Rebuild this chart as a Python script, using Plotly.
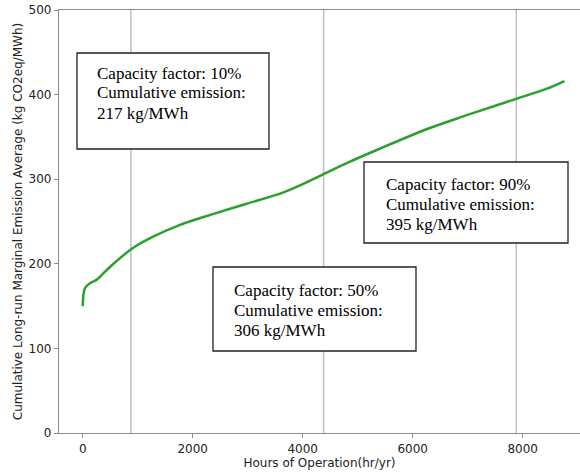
import plotly.graph_objects as go

# Cumulative long-run marginal emission average vs. annual hours of operation
hours = [0, 12, 40, 130, 250, 380, 560, 876, 1280, 1770, 2380, 2980, 3590, 3890,
         4380, 4800, 5400, 6250, 6860, 7460, 7884, 8440, 8760]
emission = [150, 163, 171, 177, 181, 189, 200, 217, 232, 246, 259, 271, 283, 291,
            306, 319, 336, 359, 373, 386, 395, 407, 416]

# Capacity-factor markers (hours/yr) and their callouts
cf_hours = [876, 4380, 7884]
cf_labels = ["10%", "50%", "90%"]
cf_values = [217, 306, 395]

x_ticks = [0, 2000, 4000, 6000, 8000]
y_ticks = [0, 100, 200, 300, 400, 500]

W, H = 580, 474
L, R, T, B = 59, 0, 10, 41


def paper_x(px):
    return (px - L) / (W - L - R)


def paper_y(py):
    return (H - B - py) / (H - B - T)


fig = go.Figure()
fig.add_trace(go.Scatter(
    x=hours, y=emission, mode="lines",
    line=dict(color="#2ca02c", width=2.5, shape="spline", smoothing=0.8),
    hoverinfo="skip", showlegend=False,
))

shapes = []
for h in cf_hours:
    shapes.append(dict(type="line", xref="x", yref="paper", x0=h, x1=h, y0=0, y1=1,
                       line=dict(color="#c0c0c0", width=1.5), layer="below"))

# callout boxes: (left, top, right, bottom) in pixels, text left, first line centre
boxes = [
    (77, 53, 269, 149, 96, 73),
    (213, 267, 416, 351, 233, 290),
    (364, 162, 568, 243, 385, 184),
]
LINE_STEP = 20
annotations = []
for (bx0, by0, bx1, by1, tx, ty), lab, val in zip(boxes, cf_labels, cf_values):
    shapes.append(dict(type="rect", xref="paper", yref="paper",
                       x0=paper_x(bx0), x1=paper_x(bx1), y0=paper_y(by1), y1=paper_y(by0),
                       line=dict(color="#222222", width=1.3), fillcolor="white", layer="above"))
    lines = [f"Capacity factor: {lab}", "Cumulative emission:", f"{val} kg/MWh"]
    for i, txt in enumerate(lines):
        annotations.append(dict(
            xref="paper", yref="paper", x=paper_x(tx), y=paper_y(ty + i * LINE_STEP),
            xanchor="left", yanchor="middle", align="left", showarrow=False,
            text=txt, borderpad=0,
            font=dict(family="Liberation Serif", size=17, color="black"),
        ))

axis_common = dict(
    showgrid=False, zeroline=False, showline=True, linecolor="#8c8c8c", linewidth=1.3,
    ticks="outside", ticklen=4, tickwidth=1, tickcolor="#8c8c8c",
    tickfont=dict(family="DejaVu Sans", size=12, color="#222222"),
)

fig.update_layout(
    width=W, height=H,
    margin=dict(l=L, r=R, t=T, b=B, pad=0),
    paper_bgcolor="white", plot_bgcolor="white",
    shapes=shapes, annotations=annotations,
    xaxis=dict(
        range=[-431, 9042], tickvals=x_ticks, mirror=True,
        title=dict(text="Hours of Operation(hr/yr)", standoff=2,
                   font=dict(family="DejaVu Sans", size=12, color="#222222")),
        **axis_common,
    ),
    yaxis=dict(
        range=[0, 500], tickvals=y_ticks,
        title=dict(text="Cumulative Long-run Marginal Emission Average (kg CO2eq/MWh)", standoff=3,
                   font=dict(family="DejaVu Sans", size=12, color="#222222")),
        **axis_common,
    ),
)

fig.write_html("out.html")
